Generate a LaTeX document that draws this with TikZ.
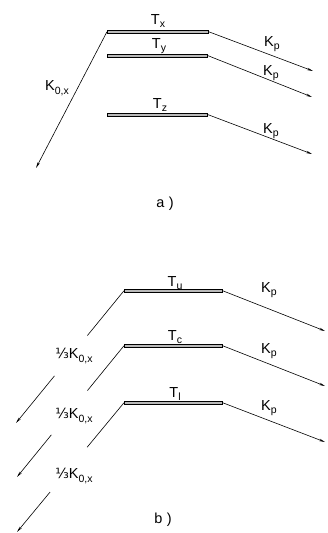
\documentclass[tikz,border=0pt]{standalone}
\usepackage{fontspec}
\setmainfont{Liberation Sans}
\newfontfamily\dvfont{DejaVu Sans}
\usetikzlibrary{arrows.meta}
\newcommand\dn[1]{\raisebox{-0.45ex}{\fontsize{10.5}{12}\selectfont #1}}
\newcommand\onethird{{\dvfont\fontsize{14}{16}\selectfont ⅓}}
\begin{document}
\begin{tikzpicture}[x=1pt,y=-1pt,
  plate/.style={draw, line width=0.6pt, fill=gray!55, minimum width=#1, minimum height=2.6pt, inner sep=0pt, anchor=west},
  lab/.style={font=\fontsize{14.5}{16}\selectfont, inner sep=1pt},
  arr/.style={line width=0.6pt, -{Stealth[length=6pt,width=2.4pt]}},
  ln/.style={line width=0.6pt}]
\useasboundingbox (0,0) rectangle (327,533);
% ---------- a)
\node[plate=101pt] (tx) at (107,31.7) {};
\node[plate=100pt] (ty) at (107,55.5) {};
\node[plate=100pt] (tz) at (107,114.5) {};
\node[lab] (ltx) at (158,21) {T\dn{x}};
\node[lab] (lty) at (159,46) {T\dn{y}};
\node[lab] (ltz) at (160,105) {T\dn{z}};
\coordinate (ex) at (313,71);
\coordinate (ey) at (312,97);
\coordinate (ez) at (312,154);
\coordinate (ek) at (36,168);
\draw[arr] (tx.east) -- (ex);
\draw[arr] (ty.east) -- (ey);
\draw[arr] (tz.east) -- (ez);
\draw[arr] (tx.west) -- (ek);
\node[lab] (kpa1) at (272,44) {K\dn{p}};
\node[lab] (kpa2) at (271,73) {K\dn{p}};
\node[lab] (kpa3) at (271,131) {K\dn{p}};
\node[lab] (k0a) at (57,88) {K\dn{0,x}};
\node[lab] (capa) at (165,204) {a\kern0.3em)};
% ---------- b)
\node[plate=98pt] (tu) at (124,290.7) {};
\node[plate=98pt] (tc) at (124,345.7) {};
\node[plate=98pt] (tl) at (124,402.7) {};
\node[lab] (ltu) at (175,283) {T\dn{u}};
\node[lab] (ltc) at (175,337) {T\dn{c}};
\node[lab] (ltl) at (175,394) {T\dn{l}};
\coordinate (eu) at (325,331);
\coordinate (ec) at (325,386);
\coordinate (el) at (325,442);
\draw[arr] (tu.east) -- (eu);
\draw[arr] (tc.east) -- (ec);
\draw[arr] (tl.east) -- (el);
\node[lab] (kpb1) at (269,290) {K\dn{p}};
\node[lab] (kpb2) at (269,351) {K\dn{p}};
\node[lab] (kpb3) at (269,408) {K\dn{p}};
\coordinate (fu) at (16,423);
\coordinate (fc) at (17,477);
\coordinate (fl) at (17,532);
\draw[ln, shorten >=113pt] (tu.west) -- (fu);
\draw[arr, shorten <=110pt] (tu.west) -- (fu);
\draw[ln, shorten >=111.5pt] (tc.west) -- (fc);
\draw[arr, shorten <=115pt] (tc.west) -- (fc);
\draw[ln, shorten >=110pt] (tl.west) -- (fl);
\draw[arr, shorten <=116pt] (tl.west) -- (fl);
\node[lab] (k0b1) at (74,356) {\onethird K\dn{0,x}};
\node[lab] (k0b2) at (74,416) {\onethird K\dn{0,x}};
\node[lab] (k0b3) at (74,476) {\onethird K\dn{0,x}};
\node[lab] (capb) at (163,520) {b\kern0.3em)};
\end{tikzpicture}
\end{document}
